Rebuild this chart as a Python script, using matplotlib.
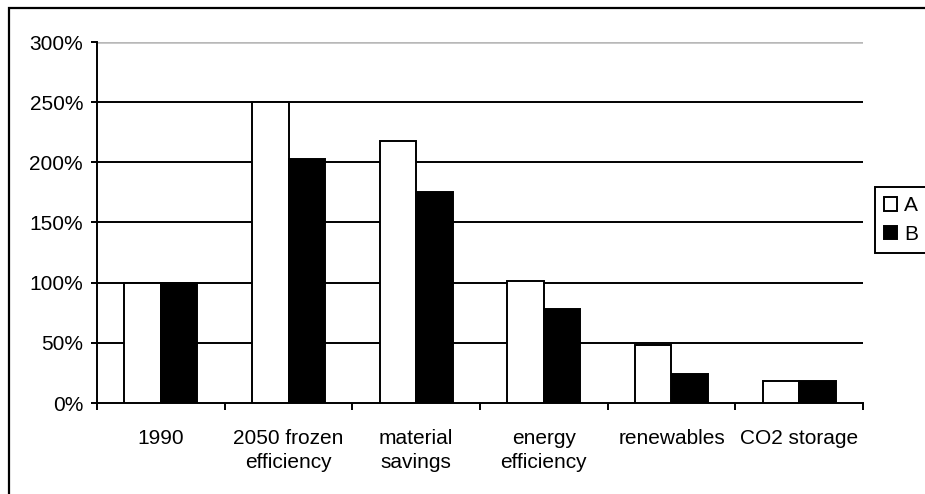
import numpy as np
import matplotlib
matplotlib.use("Agg")
import matplotlib.pyplot as plt
from matplotlib.patches import Rectangle
from matplotlib.ticker import FixedLocator, FuncFormatter

plt.rcParams['font.family'] = ['Liberation Sans', 'DejaVu Sans']

# chart data
categories = ["1990", "2050 frozen\nefficiency", "material\nsavings",
              "energy\nefficiency", "renewables", "CO2 storage"]
series_a = [100, 250, 218, 101, 48, 18]
series_b = [100, 203, 175, 78, 24, 18]
series_names = ["A", "B"]

fig = plt.figure(figsize=(9.25, 4.94), dpi=100)
ax = fig.add_axes([97 / 925, 1 - 403 / 494, (863 - 97) / 925, (403 - 42) / 494])

x = np.arange(len(categories))
w = 1 / 3.5
ax.bar(x - w / 2, series_a, width=w, color="white", edgecolor="black",
       linewidth=1.4, label=series_names[0], zorder=3)
ax.bar(x + w / 2, series_b, width=w, color="black", edgecolor="black",
       linewidth=1.4, label=series_names[1], zorder=3)

ax.set_xlim(-0.5, len(categories) - 0.5)
ax.set_ylim(0, 300)

# horizontal gridlines, top one drawn light grey
for v in range(50, 300, 50):
    ax.axhline(v, color="black", linewidth=1.4, zorder=1)
ax.axhline(300, color="#b8b8b8", linewidth=1.8, zorder=1)

ax.spines['top'].set_visible(False)
ax.spines['right'].set_visible(False)
ax.spines['left'].set_linewidth(1.4)
ax.spines['bottom'].set_linewidth(1.4)

ax.set_yticks(range(0, 301, 50))
ax.yaxis.set_major_formatter(FuncFormatter(lambda v, p: f"{int(v)}%"))
ax.tick_params(axis='y', length=4, width=1.4, pad=6, labelsize=15)

ax.set_xticks(x)
ax.set_xticklabels(categories, linespacing=1.3)
ax.tick_params(axis='x', which='major', length=0, pad=19, labelsize=15)
ax.xaxis.set_minor_locator(FixedLocator(np.arange(-0.5, len(categories), 1.0)))
ax.tick_params(axis='x', which='minor', length=5, width=1.4, direction='out')

fig.legend(loc="lower left", bbox_to_anchor=(875 / 925, 1 - 253 / 494),
           frameon=True, fancybox=False, edgecolor="black", framealpha=1,
           fontsize=15, handlelength=0.6, handleheight=0.6,
           handletextpad=0.35, labelspacing=0.45, borderpad=0.45,
           borderaxespad=0)
fig.legends[0].get_frame().set_linewidth(1.4)

# outer frame around the chart area
fig.patches.append(Rectangle((9 / 925, -0.2), 1.2, 1.2 - 8 / 494,
                             transform=fig.transFigure, fill=False,
                             edgecolor="black", linewidth=1.6))

fig.savefig("out.png", dpi=100)
